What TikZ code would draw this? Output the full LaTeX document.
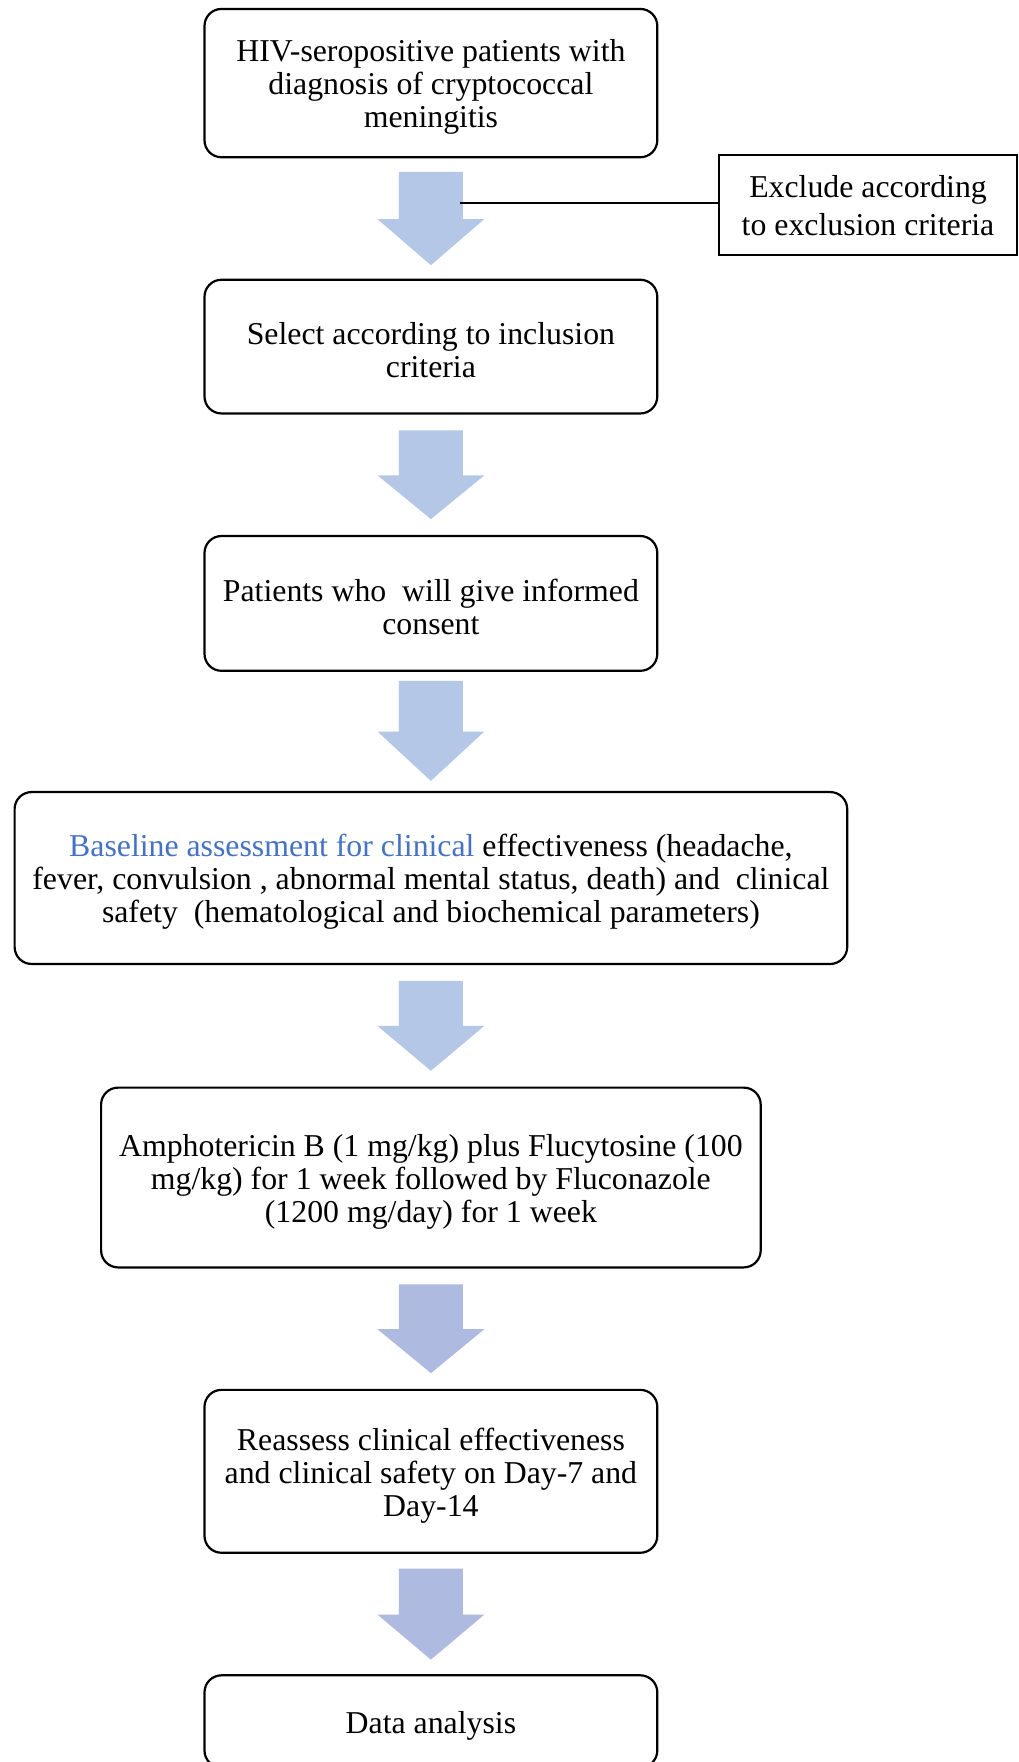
\documentclass[tikz,border=0pt]{standalone}
\usepackage{fontspec}
\setmainfont{Liberation Serif}
\definecolor{arrA}{HTML}{B4C7E7}
\definecolor{arrB}{HTML}{AEBADF}
\definecolor{bluetxt}{HTML}{4472C4}
\newcommand\fcarrow[5]{\fill[#5] (#1-32,#2) -- (#1+32,#2) -- (#1+32,#3) -- (#1+53.4,#3) -- (#1,#4) -- (#1-53.4,#3) -- (#1-32,#3) -- cycle;}
\begin{document}
\begin{tikzpicture}[x=1pt,y=-1pt,
  fcbox/.style={draw, line width=2.2pt, rounded corners=17pt, inner sep=0pt},
  fctext/.style={align=center, inner sep=0pt, yshift=-4pt,
    font=\fontsize{31.8}{33}\selectfont},
  exbox/.style={draw, line width=2pt, align=center, inner sep=0pt,
    font=\fontsize{31.8}{38}\selectfont},
  conn/.style={line width=2pt}]
\clip (0,0) rectangle (1018,1762);
\fill[white] (0,0) rectangle (1018,1762);
\node[fcbox, minimum width=452.8pt, minimum height=148.3pt] (b1) at (430.9,83.1) {};
\node[fctext] (t1) at (b1) {HIV-seropositive patients with\\diagnosis of cryptococcal\\meningitis};
\node[exbox, minimum width=298pt, minimum height=100pt] (ex) at (868,205.2)
  {Exclude according\\to exclusion criteria};
\node[fcbox, minimum width=452.8pt, minimum height=133.7pt] (b2) at (430.9,346.6) {};
\node[fctext] (t2) at (b2) {Select according to inclusion\\criteria};
\node[fcbox, minimum width=452.8pt, minimum height=134.8pt] (b3) at (430.9,603.4) {};
\node[fctext] (t3) at (b3) {Patients who\ \ will give informed\\consent};
\node[fcbox, minimum width=832.6pt, minimum height=171.9pt] (b4) at (430.9,878) {};
\node[fctext] (t4) at (b4)
  {\textcolor{bluetxt}{Baseline assessment for clinical} effectiveness (headache,\\fever, convulsion , abnormal mental status, death) and\ \ clinical\\safety\ \ (hematological and biochemical parameters)};
\node[fcbox, minimum width=659.6pt, minimum height=179.8pt] (b5) at (430.9,1177.5) {};
\node[fctext] (t5) at (b5)
  {Amphotericin B (1 mg/kg) plus Flucytosine (100\\mg/kg) for 1 week followed by Fluconazole\\(1200 mg/day) for 1 week};
\node[fcbox, minimum width=452.8pt, minimum height=162.9pt] (b6) at (430.9,1471.3) {};
\node[fctext] (t6) at (b6) {Reassess clinical effectiveness\\and clinical safety on Day-7 and\\Day-14};
\node[fcbox, minimum width=452.8pt, minimum height=92.2pt] (b7) at (430.9,1721.4) {};
\node[fctext] (t7) at (b7) {Data analysis};
\fcarrow{430.9}{171.9}{219.1}{265.2}{arrA}
\fcarrow{430.9}{430.3}{475.3}{519.1}{arrA}
\fcarrow{430.9}{680.9}{731.5}{780.9}{arrA}
\fcarrow{430.9}{980.9}{1025.9}{1070.8}{arrA}
\fcarrow{430.9}{1284.3}{1329.2}{1373.1}{arrB}
\fcarrow{430.9}{1568.5}{1614.6}{1659.6}{arrB}
\coordinate (a1) at (460,203.4);
\draw[conn] (a1) -- (a1 -| ex.west);
\end{tikzpicture}
\end{document}
